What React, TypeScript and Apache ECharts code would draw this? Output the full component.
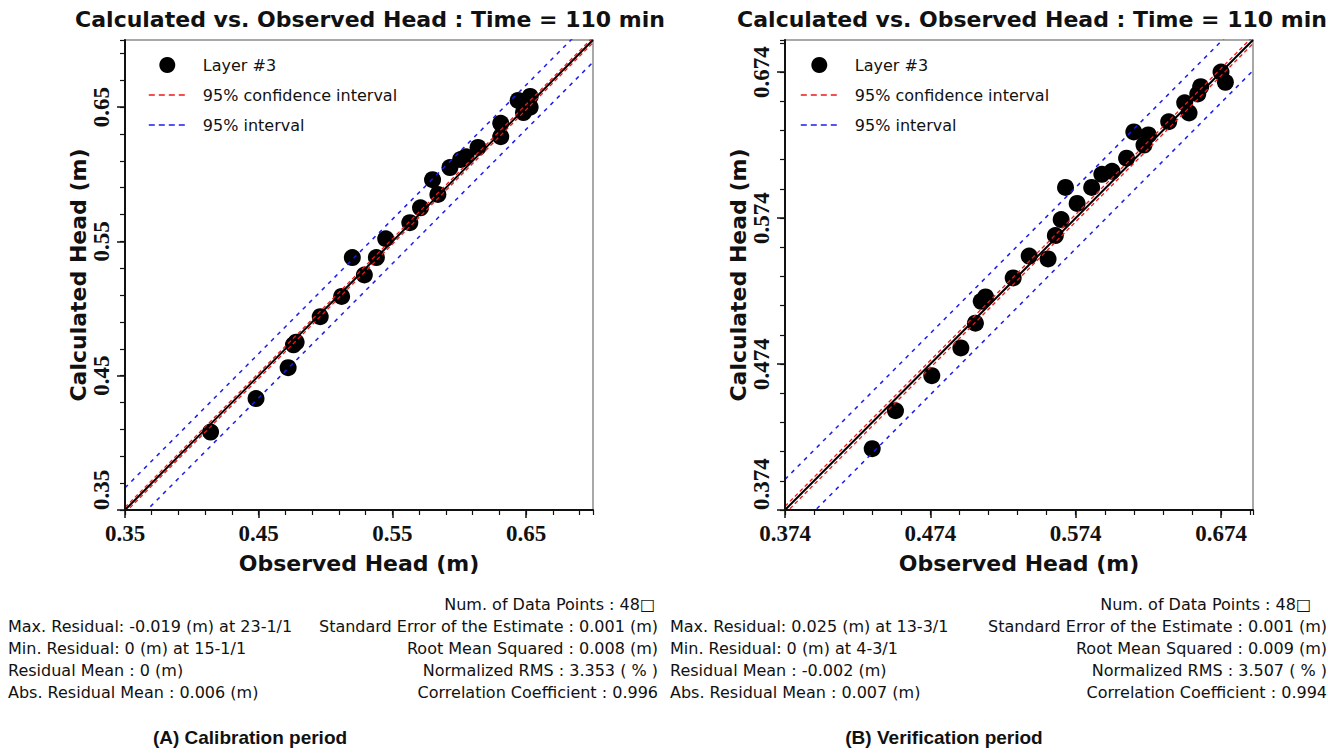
import React, { useEffect, useRef } from "react";
import * as echarts from "echarts";

// ---------- DATA ----------
// (A) Calibration period: observed vs calculated head (m)
const calObserved = [
  0.414, 0.448, 0.472, 0.478, 0.476, 0.496, 0.512, 0.520, 0.529, 0.538,
  0.545, 0.563, 0.571, 0.580, 0.584, 0.593, 0.601, 0.605, 0.614, 0.631,
  0.631, 0.644, 0.648, 0.653, 0.653,
];
const calCalculated = [
  0.408, 0.433, 0.456, 0.475, 0.473, 0.494, 0.509, 0.538, 0.525, 0.538,
  0.552, 0.564, 0.575, 0.596, 0.585, 0.605, 0.611, 0.613, 0.620, 0.638,
  0.628, 0.655, 0.646, 0.658, 0.650,
];
// (B) Verification period
const verObserved = [
  0.434, 0.450, 0.475, 0.495, 0.505, 0.509, 0.512, 0.531, 0.542, 0.555,
  0.560, 0.564, 0.567, 0.575, 0.585, 0.592, 0.599, 0.609, 0.614, 0.621,
  0.624, 0.638, 0.649, 0.652, 0.658, 0.660, 0.674, 0.677,
];
const verCalculated = [
  0.416, 0.442, 0.466, 0.485, 0.502, 0.517, 0.520, 0.533, 0.548, 0.546,
  0.562, 0.573, 0.595, 0.584, 0.595, 0.604, 0.606, 0.615, 0.633, 0.624,
  0.631, 0.640, 0.653, 0.646, 0.659, 0.664, 0.674, 0.667,
];

// axis ranges & ticks
const calRange = { min: 0.35, max: 0.7, major: 0.1, minor: 0.02, digits: 2 };
const verRange = { min: 0.374, max: 0.696, major: 0.1, minor: 0.02, digits: 3 };
const calTickLabels = ["0.35", "0.45", "0.55", "0.65"];
const verTickLabels = ["0.374", "0.474", "0.574", "0.674"];

// interval half-widths (m)
const calConfidence = 0.002;
const calPrediction = 0.0165;
const verConfidence = 0.0025;
const verPrediction = 0.021;

const legendNames = ["Layer #3", "95% confidence interval", "95% interval"];

const titleText = "Calculated vs. Observed Head : Time = 110 min";
const xName = "Observed Head (m)";
const yName = "Calculated Head (m)";

const calStatsLeft = [
  "Max. Residual: -0.019 (m) at 23-1/1",
  "Min. Residual: 0 (m) at 15-1/1",
  "Residual Mean : 0 (m)",
  "Abs. Residual Mean : 0.006 (m)",
];
const calStatsRight = [
  "Num. of Data Points : 48\u25A1",
  "Standard Error of the Estimate : 0.001 (m)",
  "Root Mean Squared : 0.008 (m)",
  "Normalized RMS : 3.353 ( % )",
  "Correlation Coefficient : 0.996",
];
const verStatsLeft = [
  "Max. Residual: 0.025 (m) at 13-3/1",
  "Min. Residual: 0 (m) at 4-3/1",
  "Residual Mean : -0.002 (m)",
  "Abs. Residual Mean : 0.007 (m)",
];
const verStatsRight = [
  "Num. of Data Points : 48\u25A1",
  "Standard Error of the Estimate : 0.001 (m)",
  "Root Mean Squared : 0.009 (m)",
  "Normalized RMS : 3.507 ( % )",
  "Correlation Coefficient : 0.994",
];
const captions = ["(A) Calibration period", "(B) Verification period"];

// ---------- BUILDERS ----------
const INK = "#111";
const SANS = "DejaVu Sans";
const RED = "#f01818";
const BLUE = "#1c1cf0";

function zip(xs: number[], ys: number[]) {
  return xs.map((x, i) => [x, ys[i]]);
}

function offsetLine(range: any, off: number) {
  return [
    [range.min, range.min + off],
    [range.max, range.max + off],
  ];
}

function majorAxis(dim: "x" | "y", gridIndex: number, range: any, labels: string[]) {
  const isY = dim === "y";
  return {
    type: "value",
    gridIndex,
    position: isY ? "left" : "bottom",
    min: range.min,
    max: range.max,
    interval: range.major,
    name: isY ? yName : xName,
    nameLocation: "middle",
    nameGap: isY ? 36 : 42,
    nameTextStyle: { fontFamily: SANS, fontWeight: "bold", fontSize: 22, color: INK },
    axisLine: { show: true, onZero: false, lineStyle: { color: INK, width: 2 } },
    axisTick: { show: true, length: 8, lineStyle: { color: INK, width: 1.5 } },
    axisLabel: {
      show: true,
      showMaxLabel: false,
      margin: 12,
      rotate: isY ? 90 : 0,
      alignMinLabel: isY ? "left" : "center",
      fontFamily: "Liberation Serif",
      fontWeight: "bold",
      fontSize: 23,
      color: INK,
      formatter: (v: number) => {
        const s = v.toFixed(range.digits);
        return labels.includes(s) ? s : "";
      },
    },
    splitLine: { show: false },
    z: 5,
  };
}

function minorAxis(dim: "x" | "y", gridIndex: number, range: any) {
  return {
    type: "value",
    gridIndex,
    position: dim === "y" ? "left" : "bottom",
    offset: 0,
    min: range.min,
    max: range.max,
    interval: range.minor,
    axisLine: { show: false, onZero: false },
    axisTick: { show: true, length: 5, lineStyle: { color: INK, width: 1.2 } },
    axisLabel: { show: false },
    splitLine: { show: false },
  };
}

function panelSeries(
  axisIndex: number,
  obs: number[],
  calc: number[],
  range: any,
  conf: number,
  pred: number
) {
  const common = {
    type: "line",
    xAxisIndex: axisIndex,
    yAxisIndex: axisIndex,
    symbol: "none",
    clip: true,
    silent: true,
  };
  const redStyle = { color: RED, width: 1.3, type: [4, 3] };
  const blueStyle = { color: BLUE, width: 1.5, type: [4, 5] };
  return [
    {
      name: legendNames[0],
      type: "scatter",
      xAxisIndex: axisIndex,
      yAxisIndex: axisIndex,
      symbol: "circle",
      symbolSize: 17,
      itemStyle: { color: "#000", opacity: 1 },
      data: zip(obs, calc),
      z: 2,
    },
    {
      ...common,
      name: "1:1",
      data: offsetLine(range, 0),
      lineStyle: { color: "#000", width: 2, type: "solid" },
      z: 3,
    },
    { ...common, name: legendNames[1], data: offsetLine(range, conf), lineStyle: redStyle, itemStyle: { color: RED }, z: 4 },
    { ...common, name: legendNames[1], data: offsetLine(range, -conf), lineStyle: redStyle, itemStyle: { color: RED }, z: 4 },
    { ...common, name: legendNames[2], data: offsetLine(range, pred), lineStyle: blueStyle, itemStyle: { color: BLUE }, z: 4 },
    { ...common, name: legendNames[2], data: offsetLine(range, -pred), lineStyle: blueStyle, itemStyle: { color: BLUE }, z: 4 },
  ];
}

function legendFor(left: number) {
  const hidden = { color: "rgba(0,0,0,0)", borderWidth: 0 };
  return {
    left,
    top: 52,
    orient: "vertical",
    itemWidth: 37,
    itemHeight: 16,
    itemGap: 14,
    selectedMode: false,
    data: [
      { name: legendNames[0], icon: "circle", itemStyle: { color: "#000", opacity: 1 } },
      { name: legendNames[1], itemStyle: hidden, lineStyle: { color: RED, width: 1.6, type: [6, 4], opacity: 1 } },
      { name: legendNames[2], itemStyle: hidden, lineStyle: { color: BLUE, width: 1.6, type: [6, 4], opacity: 1 } },
    ],
    textStyle: { fontFamily: SANS, fontSize: 16, color: INK, padding: [0, 0, 0, 12] },
  };
}

function statTexts(lines: string[], x: number, y0: number, align: string) {
  return lines.map((t, i) => ({
    type: "text",
    x,
    y: y0 + i * 22,
    style: {
      text: t,
      fontFamily: SANS,
      fontSize: 16,
      fill: INK,
      textAlign: align,
      textVerticalAlign: "middle",
    },
  }));
}

function bigText(t: string, x: number, y: number, font: string, size: number) {
  return {
    type: "text",
    x,
    y,
    style: {
      text: t,
      fontFamily: font,
      fontWeight: "bold",
      fontSize: size,
      fill: INK,
      textAlign: "center",
      textVerticalAlign: "middle",
    },
  };
}

export default function App() {
  const ref = useRef<HTMLDivElement>(null);
  useEffect(() => {
    if (!ref.current) return;
    const chart = echarts.init(ref.current, null, { renderer: "svg" });
    const gridCommon = {
      top: 40,
      width: 468,
      height: 470,
      show: true,
      backgroundColor: "#fff",
      borderColor: "#8c8c8c",
      borderWidth: 1.5,
    };
    chart.setOption({
      animation: false,
      backgroundColor: "#fff",
      grid: [
        { ...gridCommon, left: 125 },
        { ...gridCommon, left: 785 },
      ],
      xAxis: [
        majorAxis("x", 0, calRange, calTickLabels),
        minorAxis("x", 0, calRange),
        majorAxis("x", 1, verRange, verTickLabels),
        minorAxis("x", 1, verRange),
      ],
      yAxis: [
        majorAxis("y", 0, calRange, calTickLabels),
        minorAxis("y", 0, calRange),
        majorAxis("y", 1, verRange, verTickLabels),
        minorAxis("y", 1, verRange),
      ],
      legend: [legendFor(143), legendFor(795)],
      series: [
        ...panelSeries(0, calObserved, calCalculated, calRange, calConfidence, calPrediction),
        ...panelSeries(2, verObserved, verCalculated, verRange, verConfidence, verPrediction),
      ],
      graphic: [
        bigText(titleText, 370, 19, SANS, 22),
        bigText(titleText, 1032, 19, SANS, 22),
        ...statTexts(calStatsLeft, 8, 626, "left"),
        ...statTexts(calStatsRight.slice(0, 1), 655, 604, "right"),
        ...statTexts(calStatsRight.slice(1), 658, 626, "right"),
        ...statTexts(verStatsLeft, 670, 626, "left"),
        ...statTexts(verStatsRight.slice(0, 1), 1311, 604, "right"),
        ...statTexts(verStatsRight.slice(1), 1327, 626, "right"),
        bigText(captions[0], 250, 737, "Liberation Sans", 19),
        bigText(captions[1], 944, 737, "Liberation Sans", 19),
      ],
    });
    return () => chart.dispose();
  }, []);
  return (
    <div
      ref={ref}
      style={{ position: "fixed", left: 0, top: 0, width: 1328, height: 755 }}
    />
  );
}
